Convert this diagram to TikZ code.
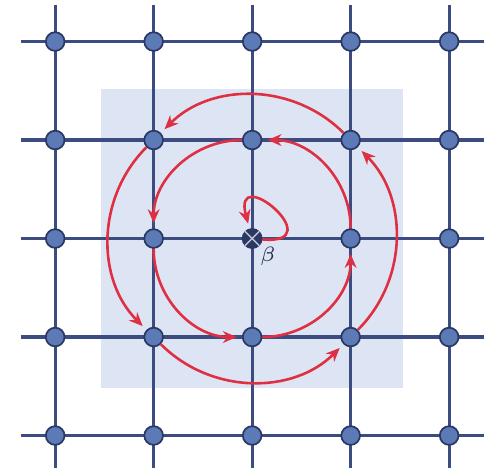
\documentclass[tikz,border=0pt]{standalone}
\usepackage{xcolor}
\usetikzlibrary{arrows.meta}
\definecolor{gblue}{RGB}{61, 76, 128}
\definecolor{nblue}{RGB}{92, 122, 182}
\definecolor{ndark}{RGB}{44, 56, 100}
\definecolor{pale}{RGB}{221, 229, 244}
\definecolor{orbit}{RGB}{222, 48, 66}

\begin{document}
\begin{tikzpicture}[
    gridline/.style={draw=gblue, line width=0.9pt},
    site/.style={circle, draw=ndark, line width=0.5pt, fill=nblue, inner sep=0pt, minimum size=5.4pt},
    fixsite/.style={site, fill=ndark},
    flow/.style={draw=orbit, line width=0.75pt, -{Stealth[length=4pt, width=3.4pt]}, shorten >=1.5pt},
]
    \useasboundingbox (-0.56,-0.39) rectangle (4.415,4.422);

    % shaded window
    \fill[pale] (0.47,0.48) rectangle (3.53,3.52);

    % lattice
    \foreach \k in {0,...,4} {
        \draw[gridline] (-0.35,\k) -- (4.35,\k);
        \draw[gridline] (\k,-0.33) -- (\k,4.37);
    }

    % sites
    \foreach \i in {0,...,4} {
        \foreach \j in {0,...,4} {
            \node[site] (v\i\j) at (\i,\j) {};
        }
    }
    \node[fixsite] (v22) at (2,2) {};
    \draw[white!70!ndark, line width=0.4pt] (v22.45) -- (v22.225) (v22.135) -- (v22.315);
    \node[font=\fontsize{6.5}{7}\selectfont, text=gblue!60!black, anchor=north west, inner sep=1pt] (lbl) at (2.04,-0.04+2) {$\beta$};

    % orbit of length one
    \draw[flow] (v22) to[out=-5, in=105, min distance=0.72cm] (v22);

    % inner orbit
    \draw[flow] (v23) to[bend right=45] (v12);
    \draw[flow] (v12) to[bend right=45] (v21);
    \draw[flow] (v21) to[bend right=45] (v32);
    \draw[flow] (v32) to[bend right=45] (v23);

    % outer orbit
    \draw[flow] (v33) to[bend right=45] (v13);
    \draw[flow] (v13) to[bend right=45] (v11);
    \draw[flow] (v11) to[bend right=45] (v31);
    \draw[flow] (v31) to[bend right=45] (v33);
\end{tikzpicture}
\end{document}
